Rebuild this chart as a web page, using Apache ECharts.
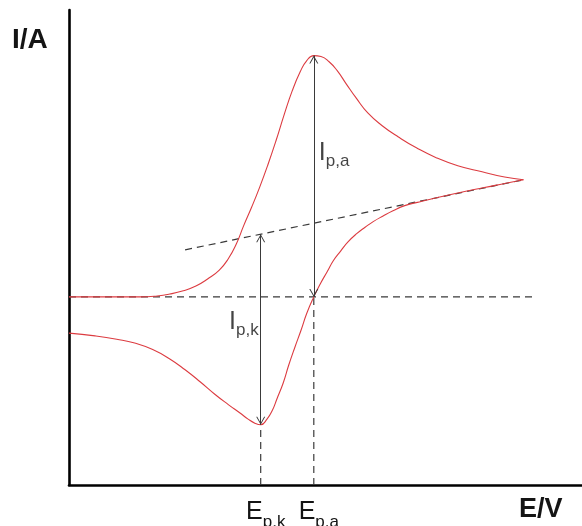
<!DOCTYPE html>
<html>
<head>
<meta charset="utf-8">
<script src="https://cdn.jsdelivr.net/npm/echarts@6/dist/echarts.min.js"></script>
<style>
  html, body { margin: 0; padding: 0; background: #fff; }
  #chart { width: 582px; height: 526px; }
</style>
</head>
<body>
<div id="chart"></div>
<script>
// Cyclic voltammogram of a reversible redox couple (potential in V, current in µA)

// Anodic (forward) sweep
const forwardE = [0, 0.046, 0.079, 0.098, 0.112, 0.127, 0.141, 0.154, 0.167, 0.177, 0.186, 0.194,
  0.203, 0.212, 0.221, 0.230, 0.239, 0.248, 0.257, 0.264, 0.272, 0.280, 0.289, 0.298, 0.308,
  0.319, 0.332, 0.348, 0.366, 0.386, 0.408, 0.432, 0.459, 0.484, 0.505];
const forwardI = [0, 0, 0, 0.02, 0.06, 0.13, 0.23, 0.38, 0.57, 0.81, 1.13, 1.51,
  1.91, 2.34, 2.81, 3.32, 3.87, 4.38, 4.79, 5.02, 5.13, 5.11, 5.00, 4.81, 4.53,
  4.23, 3.91, 3.64, 3.40, 3.17, 2.96, 2.79, 2.66, 2.55, 2.49];

// Cathodic (reverse) sweep
const reverseE = [0.505, 0.484, 0.460, 0.423, 0.387, 0.373, 0.360, 0.349, 0.338, 0.329, 0.320,
  0.310, 0.302, 0.294, 0.287, 0.279, 0.272, 0.264, 0.258, 0.251, 0.244, 0.238, 0.231, 0.226,
  0.220, 0.213, 0.207, 0.199, 0.190, 0.177, 0.162, 0.146, 0.129, 0.112, 0.093, 0.073, 0.053,
  0.029, 0];
const reverseI = [2.49, 2.41, 2.32, 2.17, 2.01, 1.94, 1.83, 1.72, 1.60, 1.48, 1.35,
  1.17, 0.98, 0.78, 0.54, 0.27, 0, -0.36, -0.70, -1.07, -1.46, -1.83, -2.17, -2.41,
  -2.60, -2.72, -2.69, -2.60, -2.47, -2.29, -2.07, -1.81, -1.55, -1.32, -1.12, -0.98, -0.90,
  -0.83, -0.77];

// Peak positions: [cathodic, anodic]
const peakNames = ['p,k', 'p,a'];
const peakE = [0.213, 0.272];
const peakI = [-2.72, 5.13];

// Baseline (I = 0) and the extrapolated baseline under the cathodic peak
const baselineE = [0, 0.516];
const tangentE = [0.129, 0.505];
const tangentI = [1.00, 2.49];

const axisNames = ['I/A', 'E/V'];

const E_MIN = 0, E_MAX = 0.57;
const I_MIN = -4, I_MAX = 6.1;

const FONT = '"Liberation Sans", Arial, sans-serif';
const INK = '#141414';
const DASH = { color: '#3a3a3a', width: 1.2, type: [7, 5] };
const CURVE = { color: '#dc3b40', width: 1.1 };
const ARROW_INK = '#3a3a3a';
// open chevron; the empty upper half keeps the tip on the line end
const CHEVRON = 'path://M0,0 L6,8 L4.6,8 L0,1.9 L-4.6,8 L-6,8 Z M0,-8 L0.01,-8 Z';

const zip = (xs, ys) => xs.map((x, i) => [x, ys[i]]);
const tangentAt = e => tangentI[0] + (e - tangentE[0]) * (tangentI[1] - tangentI[0]) / (tangentE[1] - tangentE[0]);

const subRich = (lh) => ({
  m: { fontSize: 25, fontFamily: FONT, color: INK, lineHeight: lh, verticalAlign: 'top' },
  s: { fontSize: 17, fontFamily: FONT, color: INK, lineHeight: 17, verticalAlign: 'bottom' }
});

const chart = echarts.init(document.getElementById('chart'), null, { renderer: 'canvas' });

chart.setOption({
  animation: false,
  backgroundColor: '#fff',
  grid: { left: 69, right: 0, top: 10, bottom: 41, containLabel: false, outerBoundsMode: 'none' },
  xAxis: {
    type: 'value', min: E_MIN, max: E_MAX,
    axisLine: { onZero: false, lineStyle: { color: '#000', width: 2.6 } },
    axisTick: { show: false },
    splitLine: { show: false },
    axisLabel: {
      customValues: peakE,
      margin: 15,
      padding: [0, 0, 0, 10],
      formatter: v => '{m|E}{s|' + peakNames[peakE.indexOf(v)] + '}',
      rich: subRich(31)
    }
  },
  yAxis: {
    type: 'value', min: I_MIN, max: I_MAX,
    axisLine: { show: true, onZero: false, lineStyle: { color: '#000', width: 2.6 } },
    axisTick: { show: false },
    axisLabel: { show: false },
    splitLine: { show: false }
  },
  graphic: [
    { type: 'text', left: 12, top: 26, style: { text: axisNames[0], font: 'bold 28px ' + FONT, fill: INK } },
    { type: 'text', left: 519, top: 496, style: { text: axisNames[1], font: 'bold 27px ' + FONT, fill: INK } }
  ],
  series: [
    {
      name: 'baseline', type: 'line', symbol: 'none', silent: true,
      data: baselineE.map(e => [e, 0]), lineStyle: DASH
    },
    {
      name: 'extrapolated baseline', type: 'line', symbol: 'none', silent: true,
      data: zip(tangentE, tangentI), lineStyle: DASH
    },
    {
      name: 'Ep,k guide', type: 'line', symbol: 'none', silent: true,
      data: [[peakE[0], I_MIN], [peakE[0], peakI[0]]], lineStyle: DASH
    },
    {
      name: 'Ep,a guide', type: 'line', symbol: 'none', silent: true,
      data: [[peakE[1], I_MIN], [peakE[1], 0]], lineStyle: DASH
    },
    {
      name: 'forward', type: 'line', symbol: 'none', smooth: 0.5,
      data: zip(forwardE, forwardI), lineStyle: CURVE
    },
    {
      name: 'reverse', type: 'line', symbol: 'none', smooth: 0.5,
      data: zip(reverseE, reverseI), lineStyle: CURVE
    },
    {
      name: 'peak currents', type: 'line', data: [], silent: true,
      markLine: {
        silent: true,
        symbol: [CHEVRON, CHEVRON],
        symbolSize: [9, 16],
        lineStyle: { color: ARROW_INK, width: 1, type: 'solid' },
        label: { show: false },
        emphasis: { disabled: true },
        data: [
          [{ coord: [peakE[0], peakI[0]] }, { coord: [peakE[0], tangentAt(peakE[0])] }],
          [{ coord: [peakE[1], 0] }, { coord: [peakE[1], peakI[1]] }]
        ]
      }
    },
    {
      name: 'peak labels', type: 'scatter', symbolSize: 0, silent: true,
      data: [
        { value: [peakE[1], 3.01], label: { position: 'right', distance: 5 } },
        { value: [peakE[0], -0.58], label: { position: 'left', distance: 2 } }
      ],
      label: {
        show: true,
        formatter: p => '{m|I}{s|' + peakNames[p.dataIndex === 0 ? 1 : 0] + '}',
        rich: subRich(29)
      }
    }
  ]
});
</script>
</body>
</html>
